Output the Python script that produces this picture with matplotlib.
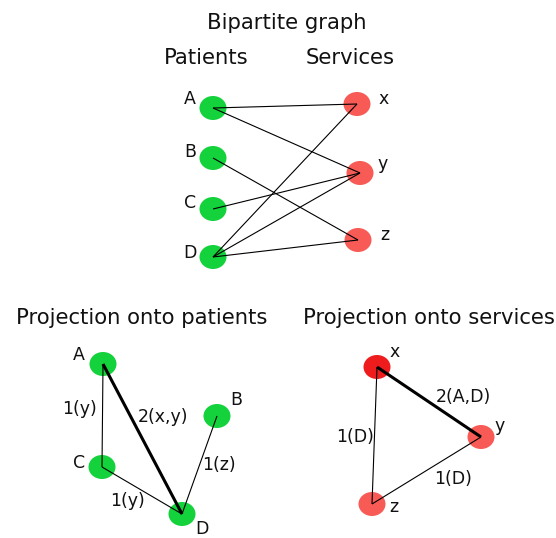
import matplotlib
matplotlib.use("Agg")
import matplotlib.pyplot as plt
from matplotlib.patches import Ellipse

# ---- data ----
patients = ["A", "B", "C", "D"]
services = ["x", "y", "z"]
bipartite_edges = [("A", "x"), ("A", "y"), ("B", "z"), ("C", "y"),
                   ("D", "x"), ("D", "y"), ("D", "z")]
patient_proj_edges = [("A", "C"), ("A", "D"), ("B", "D"), ("C", "D")]
patient_proj_weights = [1, 2, 1, 1]
patient_proj_labels = ["1(y)", "2(x,y)", "1(z)", "1(y)"]
service_proj_edges = [("x", "y"), ("x", "z"), ("y", "z")]
service_proj_weights = [2, 1, 1]
service_proj_labels = ["2(A,D)", "1(D)", "1(D)"]

# ---- layout (pixel coordinates) ----
W, H = 556, 538
fig = plt.figure(figsize=(W / 100, H / 100), dpi=100)
ax = fig.add_axes([0, 0, 1, 1])
ax.set_xlim(0, W)
ax.set_ylim(H, 0)
ax.axis("off")

GREEN = "#14d23c"
RED = "#f85a55"
RED_DARK = "#ee1c1c"
FS = 12.5
TFS = 15.2

bip_pos = {"A": (213, 108), "B": (213, 158), "C": (213, 209), "D": (213, 257),
           "x": (357, 104), "y": (360, 173), "z": (358, 240)}
bip_lbl = {"A": (190, 99), "B": (190, 152), "C": (190, 203), "D": (190, 253),
           "x": (384, 99), "y": (383, 164), "z": (385, 235)}

pp_pos = {"A": (103, 364), "B": (217, 416), "C": (102, 467), "D": (182, 514)}
pp_lbl = {"A": (79, 355), "B": (236, 400), "C": (79, 463), "D": (202, 529)}
pp_elbl = [(80, 409), (163, 417), (219, 465), (127, 501)]

sp_pos = {"x": (377, 367), "y": (481, 437), "z": (372, 504)}
sp_lbl = {"x": (395, 352), "y": (500, 426), "z": (394, 507)}
sp_elbl = [(463, 397), (355, 437), (453, 479)]

NW, NH = 27, 24


def node(p, color):
    ax.add_patch(Ellipse(p, NW, NH, facecolor=color, edgecolor="none", zorder=1))


def edge(p, q, w):
    ax.plot([p[0], q[0]], [p[1], q[1]], color="black",
            lw=0.8 if w == 1 else 2.2, zorder=2, solid_capstyle="butt")


def txt(p, s, fs=FS):
    ax.text(p[0], p[1], s, ha="center", va="center", fontsize=fs,
            family="DejaVu Sans", color="#111111", zorder=3)


# titles
txt((287, 23), "Bipartite graph", TFS)
txt((206, 58), "Patients", TFS)
txt((350, 58), "Services", TFS)
txt((142, 318), "Projection onto patients", TFS)
txt((429, 318), "Projection onto services", TFS)

# bipartite graph
for n in patients:
    node(bip_pos[n], GREEN)
for n in services:
    node(bip_pos[n], RED)
for a, b in bipartite_edges:
    edge(bip_pos[a], bip_pos[b], 1)
for n in patients + services:
    txt(bip_lbl[n], n)

# projection onto patients
for n in patients:
    node(pp_pos[n], GREEN)
for (a, b), w, l, lp in zip(patient_proj_edges, patient_proj_weights,
                            patient_proj_labels, pp_elbl):
    edge(pp_pos[a], pp_pos[b], w)
    txt(lp, l)
for n in patients:
    txt(pp_lbl[n], n)

# projection onto services
for n in services:
    node(sp_pos[n], RED_DARK if n == "x" else RED)
for (a, b), w, l, lp in zip(service_proj_edges, service_proj_weights,
                            service_proj_labels, sp_elbl):
    edge(sp_pos[a], sp_pos[b], w)
    txt(lp, l)
for n in services:
    txt(sp_lbl[n], n)

fig.savefig("out.png", dpi=100, facecolor="white")
